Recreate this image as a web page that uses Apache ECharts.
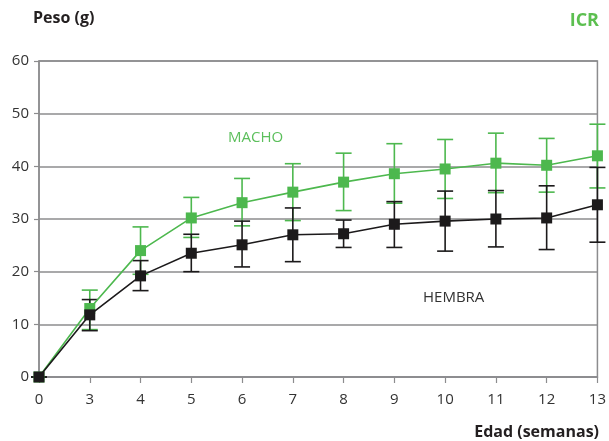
<!DOCTYPE html>
<html>
<head>
<meta charset="utf-8">
<script src="https://cdn.jsdelivr.net/npm/echarts@6/dist/echarts.min.js"></script>
<style>
html,body{margin:0;padding:0;background:#fff;}
#chart{width:609px;height:441px;}
</style>
</head>
<body>
<div id="chart"></div>
<script>
const weeks = ['0','3','4','5','6','7','8','9','10','11','12','13'];
const machoMean = [0, 13.0, 24.0, 30.2, 33.1, 35.1, 37.0, 38.6, 39.5, 40.6, 40.2, 42.0];
const machoLow  = [0, 9.0, 19.5, 26.5, 28.7, 29.7, 31.6, 33.0, 33.9, 35.0, 35.1, 35.9];
const machoHigh = [0, 16.5, 28.5, 34.1, 37.7, 40.5, 42.5, 44.3, 45.1, 46.3, 45.3, 48.0];
const hembraMean = [0, 11.8, 19.2, 23.5, 25.1, 27.0, 27.2, 29.0, 29.6, 30.0, 30.2, 32.7];
const hembraLow  = [0, 8.8, 16.4, 20.0, 20.9, 21.9, 24.6, 24.6, 23.9, 24.7, 24.2, 25.6];
const hembraHigh = [0, 14.7, 22.1, 27.1, 29.6, 32.1, 29.8, 33.3, 35.3, 35.4, 36.3, 39.8];

const GREEN = '#4db84e';
const BLACK = '#1c1a1b';
const GRID = '#8c8c8e';
const FONT = 'Open Sans';

function errData(lo, hi){ return lo.map((l,i)=>[i,l,hi[i]]); }
function errSeries(lo, hi, color){
  return {
    type:'custom', z:1,
    data: errData(lo, hi),
    renderItem: function(params, api){
      const x = api.value(0);
      const p1 = api.coord([x, api.value(1)]);
      const p2 = api.coord([x, api.value(2)]);
      const w = 8;
      const st = {stroke: color, lineWidth: 1.6};
      return {type:'group', children:[
        {type:'line', shape:{x1:p1[0],y1:p1[1],x2:p2[0],y2:p2[1]}, style:st},
        {type:'line', shape:{x1:p1[0]-w,y1:p1[1],x2:p1[0]+w,y2:p1[1]}, style:st},
        {type:'line', shape:{x1:p2[0]-w,y1:p2[1],x2:p2[0]+w,y2:p2[1]}, style:st}
      ]};
    }
  };
}

const chart = echarts.init(document.getElementById('chart'), null, {renderer:'canvas'});
chart.setOption({
  animation:false,
  textStyle:{fontFamily:FONT},
  grid:{left:39, right:10, top:61, bottom:64, show:true, borderColor:GRID, borderWidth:1.5},
  xAxis:{
    type:'category', data:weeks, boundaryGap:false,
    axisLine:{lineStyle:{color:GRID, width:1.5}},
    axisTick:{show:true, length:6, alignWithLabel:true, lineStyle:{color:GRID, width:1.2}},
    axisLabel:{color:'#333', fontSize:15, fontFamily:FONT, margin:15},
    splitLine:{show:false}
  },
  yAxis:{
    type:'value', min:0, max:60, interval:10,
    axisLine:{show:true, lineStyle:{color:GRID, width:1.5}},
    axisTick:{show:true, length:5, lineStyle:{color:GRID, width:1.2}},
    axisLabel:{color:'#333', fontSize:15, fontFamily:FONT, margin:10},
    splitLine:{show:true, lineStyle:{color:GRID, width:1.5}}
  },
  series:[
    errSeries(machoLow, machoHigh, GREEN),
    errSeries(hembraLow, hembraHigh, BLACK),
    {type:'line', name:'MACHO', data:machoMean, z:3, symbol:'rect', symbolSize:11,
     lineStyle:{color:GREEN, width:1.6}, itemStyle:{color:GREEN}},
    {type:'line', name:'HEMBRA', data:hembraMean, z:4, symbol:'rect', symbolSize:11,
     lineStyle:{color:BLACK, width:1.6}, itemStyle:{color:BLACK}}
  ],
  graphic:[
    {type:'text', left:33, top:10, style:{text:'Peso (g)', fontFamily:FONT, fontWeight:'bold', fontSize:16, fill:'#231f20'}},
    {type:'text', right:10, top:12, style:{text:'ICR', fontFamily:FONT, fontWeight:'bold', fontSize:18, fill:'#5cbf50'}},
    {type:'text', right:10, top:424, style:{text:'Edad (semanas)', fontFamily:FONT, fontWeight:'bold', fontSize:16, fill:'#231f20'}},
    {type:'text', left:228, top:130, style:{text:'MACHO', fontFamily:FONT, fontSize:15, fill:'#5cbf5c'}},
    {type:'text', left:423, top:290, style:{text:'HEMBRA', fontFamily:FONT, fontSize:15, fill:'#333'}}
  ]
});
</script>
</body>
</html>
